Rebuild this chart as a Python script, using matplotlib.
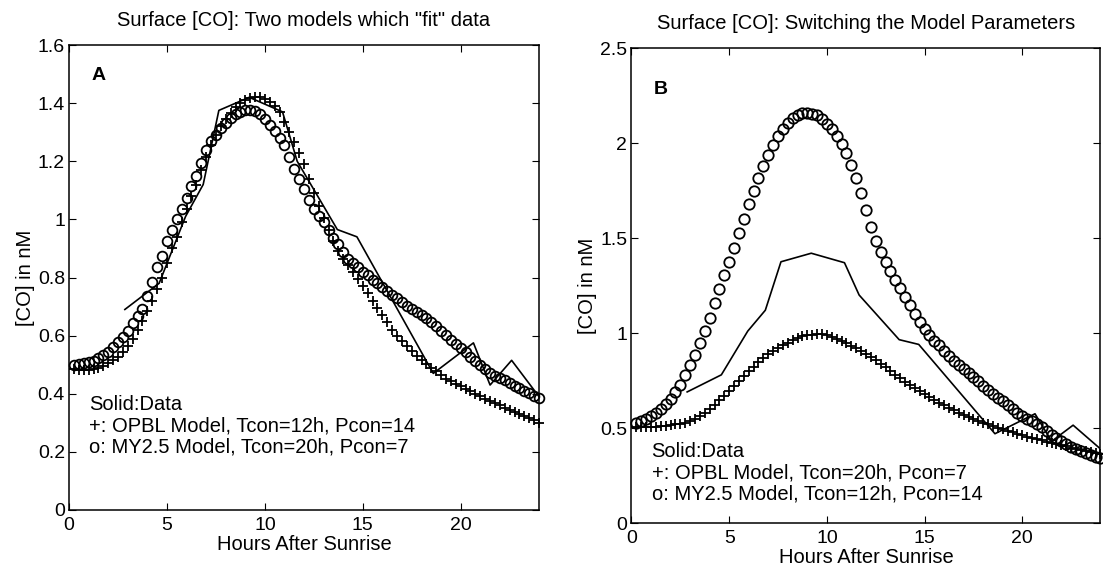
import numpy as np
import matplotlib
matplotlib.use("Agg")
import matplotlib.pyplot as plt

plt.rcParams["font.family"] = ["Liberation Sans", "DejaVu Sans"]

# model output every 0.25 h after sunrise
hours = np.arange(1, 97) * 0.25

# measured surface [CO] (same in both panels)
data_t = [2.85, 4.6, 5.95, 6.85, 7.65, 9.2, 10.9, 11.65, 13.7, 14.7, 18.6, 20.65, 21.5, 22.6, 24.0]
data_v = [0.69, 0.78, 1.01, 1.12, 1.375, 1.42, 1.37, 1.20, 0.965, 0.94, 0.47, 0.575, 0.43, 0.515, 0.39]

# panel A: OPBL Tcon=12h Pcon=14 (+), MY2.5 Tcon=20h Pcon=7 (o)
a_opbl = [0.485, 0.482, 0.482, 0.483, 0.485, 0.489, 0.496, 0.505, 0.516, 0.528, 0.545, 0.565,
          0.590, 0.618, 0.650, 0.685, 0.720, 0.760, 0.800, 0.850, 0.900, 0.940, 0.990, 1.035,
          1.080, 1.120, 1.170, 1.215, 1.255, 1.290, 1.320, 1.345, 1.365, 1.385, 1.400, 1.410,
          1.418, 1.422, 1.420, 1.414, 1.405, 1.390, 1.370, 1.335, 1.300, 1.265, 1.228, 1.190,
          1.140, 1.090, 1.045, 1.005, 0.963, 0.925, 0.890, 0.862, 0.842, 0.820, 0.795, 0.770,
          0.745, 0.720, 0.695, 0.672, 0.648, 0.620, 0.598, 0.580, 0.563, 0.548, 0.530, 0.515,
          0.502, 0.490, 0.478, 0.465, 0.452, 0.443, 0.434, 0.426, 0.418, 0.410, 0.400, 0.391,
          0.382, 0.374, 0.367, 0.360, 0.352, 0.345, 0.338, 0.331, 0.325, 0.317, 0.309, 0.300]
a_my25 = [0.500, 0.502, 0.505, 0.508, 0.514, 0.522, 0.532, 0.545, 0.562, 0.578, 0.595, 0.617,
          0.643, 0.668, 0.690, 0.735, 0.785, 0.835, 0.875, 0.925, 0.965, 1.000, 1.035, 1.075,
          1.115, 1.150, 1.195, 1.240, 1.270, 1.290, 1.315, 1.333, 1.350, 1.362, 1.370, 1.375,
          1.376, 1.373, 1.362, 1.345, 1.325, 1.305, 1.280, 1.255, 1.215, 1.175, 1.140, 1.105,
          1.065, 1.035, 1.012, 0.990, 0.962, 0.937, 0.915, 0.888, 0.865, 0.850, 0.835, 0.820,
          0.807, 0.793, 0.780, 0.766, 0.752, 0.740, 0.728, 0.714, 0.702, 0.692, 0.682, 0.672,
          0.660, 0.648, 0.632, 0.617, 0.602, 0.586, 0.572, 0.558, 0.544, 0.528, 0.513, 0.498,
          0.484, 0.472, 0.462, 0.454, 0.447, 0.438, 0.428, 0.419, 0.410, 0.401, 0.392, 0.384]

# panel B: parameters switched
b_opbl = [0.505, 0.503, 0.503, 0.504, 0.506, 0.509, 0.512, 0.515, 0.519, 0.523, 0.528, 0.538,
          0.550, 0.563, 0.580, 0.600, 0.622, 0.645, 0.670, 0.695, 0.720, 0.747, 0.773, 0.798,
          0.820, 0.845, 0.867, 0.887, 0.905, 0.921, 0.935, 0.948, 0.961, 0.973, 0.982, 0.988,
          0.992, 0.994, 0.993, 0.988, 0.980, 0.970, 0.960, 0.947, 0.933, 0.920, 0.905, 0.890,
          0.873, 0.856, 0.838, 0.820, 0.800, 0.780, 0.761, 0.744, 0.727, 0.710, 0.693, 0.678,
          0.663, 0.648, 0.633, 0.620, 0.607, 0.594, 0.581, 0.570, 0.559, 0.548, 0.537, 0.528,
          0.519, 0.511, 0.502, 0.494, 0.486, 0.477, 0.468, 0.461, 0.454, 0.447, 0.441, 0.435,
          0.428, 0.421, 0.415, 0.409, 0.403, 0.396, 0.390, 0.384, 0.379, 0.373, 0.367, 0.362]
b_my25 = [0.524, 0.535, 0.548, 0.562, 0.578, 0.598, 0.625, 0.652, 0.692, 0.726, 0.780, 0.832,
          0.884, 0.945, 1.010, 1.080, 1.157, 1.232, 1.305, 1.372, 1.445, 1.525, 1.602, 1.678,
          1.750, 1.818, 1.880, 1.938, 1.990, 2.036, 2.073, 2.105, 2.132, 2.150, 2.157, 2.160,
          2.155, 2.145, 2.125, 2.100, 2.075, 2.038, 1.995, 1.945, 1.885, 1.815, 1.738, 1.645,
          1.560, 1.485, 1.425, 1.375, 1.325, 1.280, 1.235, 1.190, 1.145, 1.100, 1.060, 1.020,
          0.990, 0.960, 0.935, 0.905, 0.880, 0.855, 0.830, 0.810, 0.790, 0.770, 0.745, 0.720,
          0.700, 0.680, 0.660, 0.640, 0.620, 0.600, 0.580, 0.565, 0.550, 0.535, 0.520, 0.505,
          0.485, 0.465, 0.445, 0.430, 0.415, 0.402, 0.390, 0.380, 0.370, 0.360, 0.350, 0.340]

panels = [
    dict(rect=[0.0626, 0.1037, 0.4261, 0.8172], ylim=1.6, yticks=[0, 0.2, 0.4, 0.6, 0.8, 1, 1.2, 1.4, 1.6],
         ylabels=["0", "0.2", "0.4", "0.6", "0.8", "1", "1.2", "1.4", "1.6"],
         opbl=a_opbl, my25=a_my25, ms=7.0, letter="A", letter_y=0.934, title_pad=14,
         title='Surface [CO]: Two models which "fit" data',
         notes=["Solid:Data", "+: OPBL Model, Tcon=12h, Pcon=14", "o: MY2.5 Model, Tcon=20h, Pcon=7"],
         note_y=[0.227, 0.180, 0.136]),
    dict(rect=[0.5725, 0.0808, 0.4252, 0.8348], ylim=2.5, yticks=[0, 0.5, 1, 1.5, 2, 2.5],
         ylabels=["0", "0.5", "1", "1.5", "2", "2.5"],
         opbl=b_opbl, my25=b_my25, ms=7.5, letter="B", letter_y=0.912, title_pad=14,
         title="Surface [CO]: Switching the Model Parameters",
         notes=["Solid:Data", "+: OPBL Model, Tcon=20h, Pcon=7", "o: MY2.5 Model, Tcon=12h, Pcon=14"],
         note_y=[0.150, 0.105, 0.062]),
]

fig = plt.figure(figsize=(11.03, 5.69), dpi=100)

for p in panels:
    ax = fig.add_axes(p["rect"])
    ax.plot(data_t, data_v, color="black", lw=1.2)
    ax.plot(hours, p["opbl"], ls="none", marker="+", ms=p["ms"], mew=1.3, color="black", clip_on=False)
    ax.plot(hours, p["my25"], ls="none", marker="o", ms=p["ms"], mew=1.3, mfc="none", mec="black",
            clip_on=False)
    ax.set_xlim(0, 24)
    ax.set_ylim(0, p["ylim"])
    ax.set_xticks([0, 5, 10, 15, 20])
    ax.set_yticks(p["yticks"])
    ax.set_yticklabels(p["ylabels"])
    ax.tick_params(direction="in", top=True, right=True, length=5, width=0.8, labelsize=14, pad=3)
    ax.tick_params(axis="x", pad=5)
    for s in ax.spines.values():
        s.set_linewidth(1.1)
    ax.set_title(p["title"], fontsize=14.5, pad=p["title_pad"])
    ax.set_xlabel("Hours After Sunrise", fontsize=14.5, labelpad=1)
    ax.set_ylabel("[CO] in nM", fontsize=14.5, labelpad=2)
    ax.text(0.062, p["letter_y"], p["letter"], transform=ax.transAxes, fontsize=14,
            fontweight="bold", ha="center", va="center")
    for txt, y in zip(p["notes"], p["note_y"]):
        ax.text(0.043, y, txt, transform=ax.transAxes, fontsize=14.5, ha="left", va="center")

fig.savefig("out.png", dpi=100)
